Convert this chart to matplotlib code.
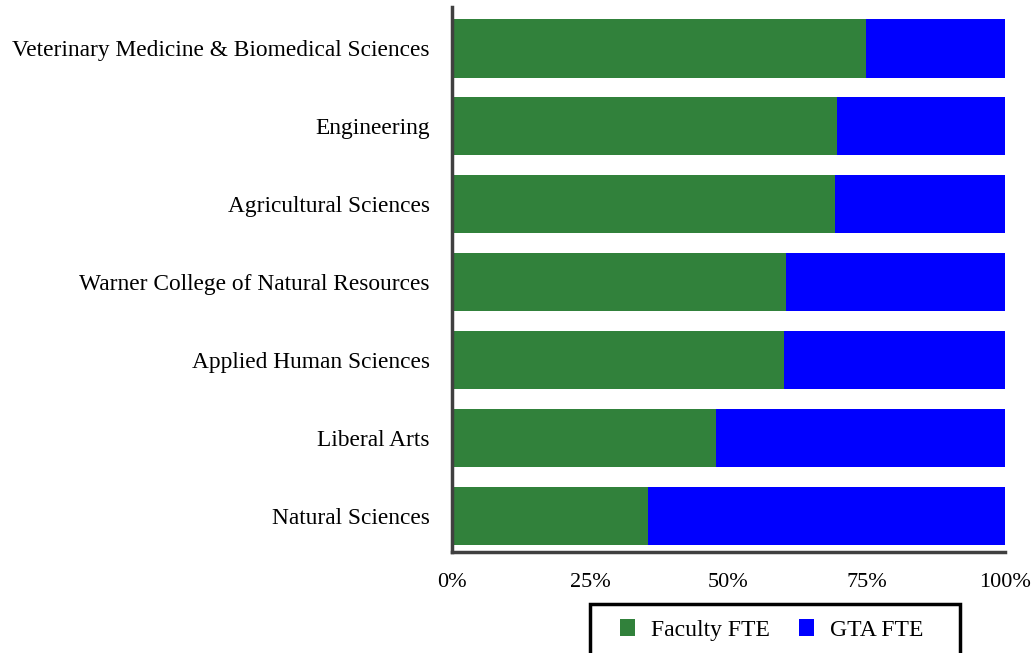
import matplotlib
matplotlib.use("Agg")
import matplotlib.pyplot as plt
from matplotlib.patches import Rectangle
from matplotlib.ticker import FuncFormatter

# Data (share of total FTE), top to bottom as shown
colleges = ["Veterinary Medicine & Biomedical Sciences", "Engineering",
            "Agricultural Sciences", "Warner College of Natural Resources",
            "Applied Human Sciences", "Liberal Arts", "Natural Sciences"]
faculty = [0.749, 0.696, 0.693, 0.604, 0.600, 0.477, 0.354]
gta = [1 - f for f in faculty]

green = "#31813B"
blue = "#0000FF"

plt.rcParams["font.family"] = ["Liberation Serif", "DejaVu Serif"]

W, H = 1032, 653
fig = plt.figure(figsize=(W / 100, H / 100), dpi=100)
ax = fig.add_axes([452 / W, 1 - 552 / H, 553 / W, 545 / H])

ypos = list(range(len(colleges)))[::-1]
ax.barh(ypos, faculty, height=0.75, color=green, label="Faculty FTE")
ax.barh(ypos, gta, left=faculty, height=0.75, color=blue, label="GTA FTE")

ax.set_xlim(0, 1)
ax.set_ylim(-0.465, 6.53)
ax.set_yticks(ypos)
ax.set_yticklabels(colleges, fontsize=16.8)
ax.set_xticks([0, 0.25, 0.5, 0.75, 1.0])
ax.xaxis.set_major_formatter(FuncFormatter(lambda v, p: f"{v:.0%}"))
ax.tick_params(axis="x", labelsize=16, length=0, pad=15)
ax.tick_params(axis="y", length=0, pad=16)

for s in ["top", "right"]:
    ax.spines[s].set_visible(False)
for s in ["left", "bottom"]:
    ax.spines[s].set_color("#404040")
    ax.spines[s].set_linewidth(2.5)

# legend entries without frame, box drawn separately (runs off the bottom edge)
fig.legend(loc="center", bbox_to_anchor=(772 / W, 1 - 630 / H),
           borderaxespad=0, borderpad=0, ncol=2, fontsize=17, frameon=False,
           handlelength=0.64, handleheight=0.75, handletextpad=0.68,
           columnspacing=1.23)
fig.patches.append(Rectangle((590 / W, -0.05), 370 / W, 1 - 604 / H + 0.05,
                             transform=fig.transFigure, fill=False,
                             edgecolor="black", linewidth=2.5))

fig.savefig("out.png", dpi=100)
